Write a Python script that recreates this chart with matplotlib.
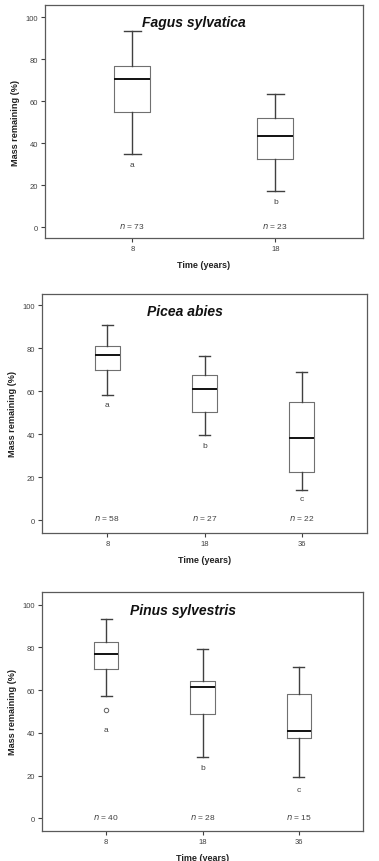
import matplotlib
matplotlib.use("Agg")
import matplotlib.pyplot as plt

plt.rcParams['font.family'] = ['Liberation Sans', 'DejaVu Sans']

# ---- data ----
species = ["Fagus sylvatica", "Picea abies", "Pinus sylvestris"]
times_fagus = ["8", "18"]
times_picea = ["8", "18", "36"]
times_pinus = ["8", "18", "36"]

# (whisker low, Q1, median, Q3, whisker high)
fagus_stats = [(35.1, 54.8, 70.6, 76.7, 93.5),
               (17.3, 32.4, 43.5, 51.9, 63.5)]
picea_stats = [(58.1, 69.7, 76.7, 81.2, 91.0),
               (39.6, 50.2, 61.0, 67.4, 76.6),
               (14.1, 22.2, 38.4, 55.1, 68.9)]
pinus_stats = [(57.1, 70.0, 76.9, 82.7, 93.3),
               (28.9, 48.8, 61.5, 64.4, 79.3),
               (19.3, 37.4, 40.9, 58.2, 70.7)]
pinus_outliers = [[50.7], [], []]

fagus_letters = ["a", "b"]
picea_letters = ["a", "b", "c"]
pinus_letters = ["a", "b", "c"]
fagus_letter_y = [30.1, 12.4]
picea_letter_y = [54.0, 34.6, 9.8]
pinus_letter_y = [41.8, 23.6, 13.4]

fagus_n = [73, 23]
picea_n = [58, 27, 22]
pinus_n = [40, 28, 15]

W, H = 379, 862
fig = plt.figure(figsize=(W / 100, H / 100), dpi=100)

panels = [
    dict(rect=(44.7, 6, 363, 239), name=species[0], times=times_fagus, stats=fagus_stats,
         outliers=[[], []], letters=fagus_letters, ly=fagus_letter_y, n=fagus_n,
         ylim=(-5.1, 105.9), title_x=0.47),
    dict(rect=(42.3, 294.7, 366.7, 533.7), name=species[1], times=times_picea, stats=picea_stats,
         outliers=[[], [], []], letters=picea_letters, ly=picea_letter_y, n=picea_n,
         ylim=(-5.9, 105.4), title_x=0.44),
    dict(rect=(41.7, 593.3, 363.3, 831.7), name=species[2], times=times_pinus, stats=pinus_stats,
         outliers=pinus_outliers, letters=pinus_letters, ly=pinus_letter_y, n=pinus_n,
         ylim=(-5.8, 105.8), title_x=0.44),
]

edge = '#5a5a5a'
for p in panels:
    x0, y0, x1, y1 = p['rect']
    ax = fig.add_axes([x0 / W, 1 - y1 / H, (x1 - x0) / W, (y1 - y0) / H])
    k = len(p['times'])
    pos = list(range(1, k + 1))
    bstats = []
    for (lo, q1, med, q3, hi), fl in zip(p['stats'], p['outliers']):
        bstats.append(dict(whislo=lo, q1=q1, med=med, q3=q3, whishi=hi, fliers=fl))
    ax.bxp(bstats, positions=pos, widths=0.25, showfliers=True, patch_artist=False,
           boxprops=dict(color='#707070', linewidth=0.8),
           whiskerprops=dict(color='#404040', linewidth=1.0),
           capprops=dict(color='#404040', linewidth=1.0),
           medianprops=dict(color='#111111', linewidth=1.4),
           flierprops=dict(marker='o', markersize=3.2, markerfacecolor='white',
                           markeredgecolor='#606060', markeredgewidth=0.7),
           capwidths=0.115)
    margin = 0.613 if k == 2 else 0.67
    ax.set_xlim(1 - margin, k + margin)
    ax.set_ylim(*p['ylim'])
    ax.set_yticks([0, 20, 40, 60, 80, 100])
    ax.set_xticks(pos)
    ax.set_xticklabels(p['times'])
    ax.tick_params(axis='both', labelsize=5.5, colors='#404040', length=3, width=0.8, pad=2)
    for s in ax.spines.values():
        s.set_color(edge)
        s.set_linewidth(0.9)
    for xi, letter, yl in zip(pos, p['letters'], p['ly']):
        ax.text(xi, yl, letter, ha='center', va='center', fontsize=6, color='#404040')
    for xi, nv in zip(pos, p['n']):
        ax.text(xi, 1.0, r'$\mathit{n}$' + f' = {nv}', ha='center', va='center',
                fontsize=6, color='#404040')
    ax.text(p['title_x'], 0.955, p['name'], transform=ax.transAxes, ha='center', va='top',
            fontsize=10, fontweight='bold', fontstyle='italic', color='#111111')
    ax.set_ylabel('Mass remaining (%)', fontsize=6.6, fontweight='bold', color='#222222', labelpad=4)
    ax.set_xlabel('Time (years)', fontsize=6.5, fontweight='bold', color='#222222', labelpad=6)

fig.savefig('out.png', dpi=100, facecolor='white')
